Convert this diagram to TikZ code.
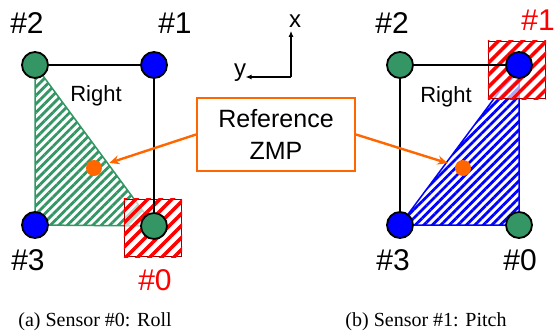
\documentclass[tikz,border=0pt]{standalone}
\usepackage{fontspec}
\setmainfont{Liberation Serif}
\setsansfont{Liberation Sans}
\usetikzlibrary{positioning,arrows.meta,patterns.meta}

\definecolor{padgreen}{RGB}{51,150,100}
\definecolor{zmporange}{RGB}{255,102,0}
\definecolor{boxred}{RGB}{150,0,0}

\begin{document}
\begin{tikzpicture}[
        %Environment config
        x=1pt, y=-1pt,
        font=\sffamily,
        %Environment styles
        PadCfg/.style={circle, draw, line width=1.8pt, minimum size=26pt, inner sep=0pt},
        GreenPad/.style={PadCfg, fill=padgreen},
        BluePad/.style={PadCfg, fill=blue},
        NumCfg/.style={font=\sffamily\fontsize{30}{30}\selectfont},
        HotCfg/.style={NumCfg, text=red},
        SupportCfg/.style={pattern={Lines[angle=45,distance=6pt,line width=2.8pt]}},
        SensorCfg/.style={draw=boxred, line width=1.2pt, minimum size=57pt, inner sep=0pt,
            fill=white, fill opacity=0.65, text opacity=1},
        ZmpCfg/.style={circle, fill=zmporange, minimum size=16pt, inner sep=0pt},
        ArrowCfg/.style={draw=zmporange, line width=2.4pt, -{Stealth[length=10pt,width=9pt]}, shorten >=8pt},
        CaptionCfg/.style={font=\rmfamily\fontsize{20}{20}\selectfont}
    ]
    \useasboundingbox (0,0) rectangle (554,335);

    % pad positions
    \path
        (35,65) coordinate (l2)   (154,65) coordinate (l1)
        (35,225) coordinate (l3)  (154,226) coordinate (l0)
        (400,65) coordinate (r2)  (519,65) coordinate (r1)
        (400,225) coordinate (r3) (519,225) coordinate (r0);

    % (a) roll: support triangle and lifted sensor
    \fill[SupportCfg, pattern color=padgreen] (l2) -- (l3) -- (l0) -- cycle;
    \draw[padgreen, line width=1.5pt] (l2) -- (l3) -- (l0) -- cycle;
    \node[SensorCfg] (S0) at ([shift={(-1,2)}]l0) {};
    \path[pattern={Lines[angle=45,distance=8.5pt,line width=3.5pt]}, pattern color=red]
        (S0.north west) rectangle (S0.south east);

    % (b) pitch
    \fill[SupportCfg, pattern color=blue] (r1) -- (r3) -- (r0) -- cycle;
    \draw[blue, line width=1.5pt] (r1) -- (r3) -- (r0) -- cycle;
    \node[SensorCfg] (S1) at ([shift={(-2,5)}]r1) {};
    \path[pattern={Lines[angle=45,distance=8.5pt,line width=3.5pt]}, pattern color=red]
        (S1.north west) rectangle (S1.south east);

    % pads
    \node[GreenPad] (L2) at (l2) {};
    \node[BluePad]  (L1) at (l1) {};
    \node[BluePad]  (L3) at (l3) {};
    \node[GreenPad] (L0) at (l0) {};
    \node[GreenPad] (R2) at (r2) {};
    \node[BluePad]  (R1) at (r1) {};
    \node[BluePad]  (R3) at (r3) {};
    \node[GreenPad] (R0) at (r0) {};

    \draw[line width=1.8pt]
        (L2) -- (L1) (L1) -- (L0)
        (R2) -- (R1) (R2) -- (R3);

    % pad numbers
    \node[NumCfg] (N2a) at (27,23) {\#2};
    \node[NumCfg] (N1a) at (175,23) {\#1};
    \node[NumCfg] (N3a) at (28,260) {\#3};
    \node[HotCfg] (N0a) at (155,280) {\#0};
    \node[NumCfg] (N2b) at (392,23) {\#2};
    \node[HotCfg] (N1b) at (538,20) {\#1};
    \node[NumCfg] (N3b) at (393,260) {\#3};
    \node[NumCfg] (N0b) at (520,260) {\#0};

    \node[font=\sffamily\fontsize{22}{22}\selectfont] (RtA) at (96,96) {Right};
    \node[font=\sffamily\fontsize{22}{22}\selectfont] (RtB) at (446,97) {Right};

    % reference zmp
    \node[ZmpCfg] (ZA) at (94,168) {};
    \node[ZmpCfg] (ZB) at (463,168) {};
    \node[draw=zmporange, line width=2pt, minimum width=158pt, minimum height=73pt,
        align=center, font=\sffamily\fontsize{25}{32}\selectfont] (Zmp) at (276,134.5)
        {Reference\\ZMP};
    \draw[ArrowCfg] (Zmp.west) -- (ZA);
    \draw[ArrowCfg] (Zmp.east) -- (ZB);

    % axes
    \coordinate (ax) at (291,77);
    \node[font=\sffamily\fontsize{24}{24}\selectfont] (xl) at (295,21) {x};
    \node[font=\sffamily\fontsize{24}{24}\selectfont] (yl) at (240,73) {y};
    \draw[line width=1.3pt, -{Latex[length=6pt,width=5pt]}]
        (ax) -- (ax |- xl.south);
    \draw[line width=1.3pt, -{Latex[length=6pt,width=5pt]}]
        (ax) -- ([xshift=-4pt]yl.east |- ax);

    % captions
    \node[CaptionCfg] (CapA) at (95,322) {(a) Sensor \#0: Roll};
    \node[CaptionCfg] (CapB) at (426,322) {(b) Sensor \#1: Pitch};
\end{tikzpicture}
\end{document}
